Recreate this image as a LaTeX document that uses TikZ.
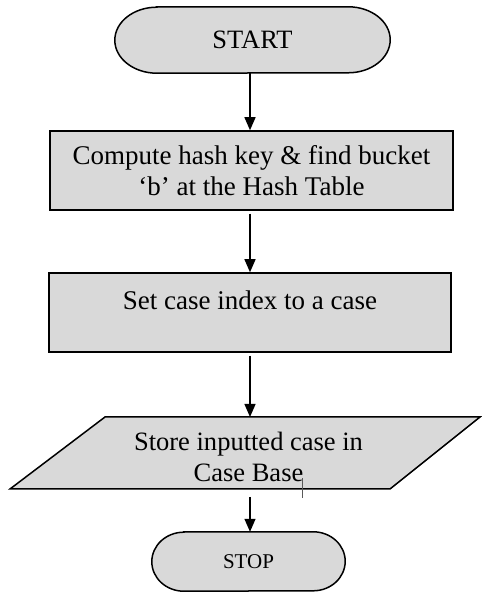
\documentclass[tikz,border=0pt]{standalone}
\usepackage{fontspec}
\setmainfont{Liberation Serif}
\usetikzlibrary{arrows.meta,calc}
\definecolor{boxfill}{RGB}{217,217,217}
\pgfdeclarelayer{bg}
\pgfsetlayers{bg,main}
\tikzset{
  outline/.style={draw=black, line width=1.5pt, fill=boxfill},
  lbl/.style={font=\fontsize{27}{31}\selectfont, align=center, inner sep=0pt},
  arr/.style={line width=1.3pt, -{Triangle[length=13pt,width=11pt]}},
}
\begin{document}
\begin{tikzpicture}[x=1pt,y=1pt]
\useasboundingbox (0,0) rectangle (481,593);
\coordinate (ax) at (250,0);

% START terminal
\node[lbl, font=\fontsize{26.5}{30}\selectfont, minimum width=275, minimum height=66] (start) at (252.5,553) {START};
\begin{pgfonlayer}{bg}
\path[outline] ($(start.north west)+(42,0)$) -- ($(start.north east)+(-42,0)$)
  arc[start angle=90, end angle=-90, x radius=42, y radius=33]
  -- ($(start.south west)+(42,0)$)
  arc[start angle=270, end angle=90, x radius=42, y radius=33] -- cycle;
\end{pgfonlayer}

% Box 1
\node[lbl, outline, minimum width=403, minimum height=79] (box1) at (251.5,422.5)
  {Compute hash key \& find bucket\\‘b’ at the Hash Table};

% Box 2
\node[outline, minimum width=402, minimum height=79, inner sep=0pt] (box2) at (250,280.5) {};
\node[lbl, anchor=base] (box2txt) at (250,283) {Set case index to a case};

% Parallelogram
\coordinate (ptl) at (105,176);
\coordinate (ptr) at (480,176);
\coordinate (pbr) at (390,104);
\coordinate (pbl) at (10,104);
\path[outline] (ptl) -- (ptr) -- (pbr) -- (pbl) -- cycle;
\node[lbl, font=\fontsize{26.5}{31}\selectfont] (para) at (248.5,136.5) {Store inputted case in\\Case Base};
\coordinate (paratop) at (250,176);
\coordinate (parabot) at (250,96);
\draw[line width=0.6pt, gray!70!black] (302,115) -- (302,95);

% STOP terminal
\node[lbl, font=\fontsize{21}{24}\selectfont, minimum width=193, minimum height=59] (stop) at (248.5,31.5) {STOP};
\begin{pgfonlayer}{bg}
\path[outline] ($(stop.north west)+(32,0)$) -- ($(stop.north east)+(-32,0)$)
  arc[start angle=90, end angle=-90, x radius=32, y radius=29.5]
  -- ($(stop.south west)+(32,0)$)
  arc[start angle=270, end angle=90, x radius=32, y radius=29.5] -- cycle;
\end{pgfonlayer}

% Connectors
\draw[arr] (start.south -| ax) -- (box1.north -| ax);
\draw[arr, shorten <=3pt] (box1.south -| ax) -- (box2.north -| ax);
\draw[arr, shorten <=3pt] (box2.south -| ax) -- (paratop);
\draw[arr] (parabot) -- (stop.north -| ax);
\end{tikzpicture}
\end{document}
